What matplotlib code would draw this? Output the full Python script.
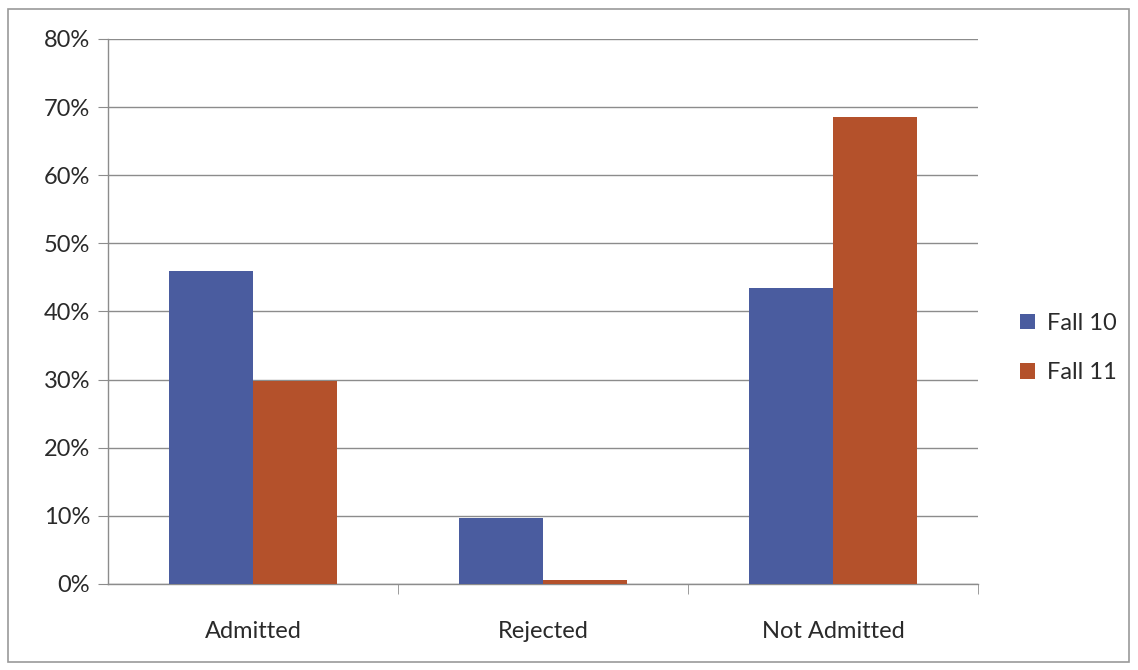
import numpy as np
import matplotlib.pyplot as plt
from matplotlib.patches import Rectangle
from matplotlib.ticker import PercentFormatter

# data
categories = ['Admitted', 'Rejected', 'Not Admitted']
series = ['Fall 10', 'Fall 11']
fall_10 = [46.0, 9.7, 43.4]
fall_11 = [29.8, 0.6, 68.5]

colors = ['#4A5C9F', '#B4512B']
grid_col = '#8C8C8C'
text_col = '#2A2A2A'

plt.rcParams['font.family'] = ['Lato', 'DejaVu Sans']

fig = plt.figure(figsize=(11.38, 6.70), dpi=100)
ax = fig.add_axes([0.0949, 0.1284, 0.7645, 0.8134])

# figure frame
fig.patches.append(Rectangle((0.007, 0.012), 0.985, 0.975, transform=fig.transFigure,
                             fill=False, edgecolor='#9A9A9A', linewidth=1.2))

x = np.arange(len(categories))
width = 0.29
ax.bar(x - width / 2, fall_10, width, color=colors[0], label=series[0], zorder=3)
ax.bar(x + width / 2, fall_11, width, color=colors[1], label=series[1], zorder=3)

ax.set_xlim(-0.5, len(categories) - 0.5)
ax.set_ylim(0, 80)
ax.set_yticks(np.arange(0, 81, 10))
ax.yaxis.set_major_formatter(PercentFormatter(decimals=0))
ax.yaxis.grid(True, color=grid_col, linewidth=1.0, zorder=0)

ax.set_xticks(x)
ax.set_xticklabels(categories)
ax.set_xticks(np.arange(0.5, len(categories), 1), minor=True)
ax.tick_params(axis='x', which='major', length=0, pad=27, labelsize=17, labelcolor=text_col)
ax.tick_params(axis='x', which='minor', length=7, color=grid_col, direction='out')
ax.tick_params(axis='y', length=7, color=grid_col, labelsize=17, labelcolor=text_col, pad=6)

for side in ['top', 'right']:
    ax.spines[side].set_visible(False)
for side in ['left', 'bottom']:
    ax.spines[side].set_color(grid_col)
    ax.spines[side].set_linewidth(1.0)

ax.legend(loc='center left', bbox_to_anchor=(1.024, 0.433), frameon=False,
          fontsize=17, handlelength=0.65, handleheight=0.65, handletextpad=0.5,
          labelspacing=1.2, labelcolor=text_col)

fig.savefig('out.png', dpi=100)
